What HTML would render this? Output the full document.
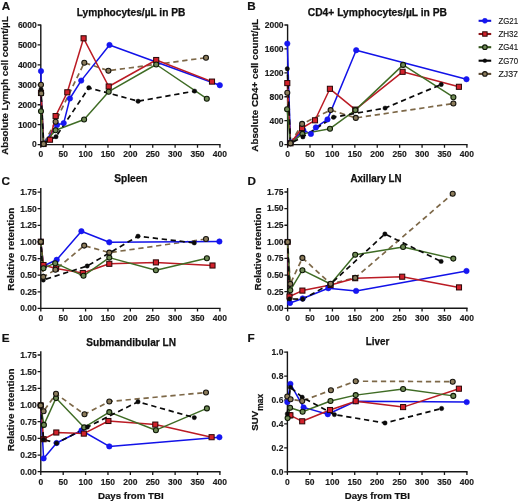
<!DOCTYPE html>
<html><head><meta charset="utf-8"><style>
html,body{margin:0;padding:0;background:#fff;width:520px;height:502px;overflow:hidden}
svg{display:block;will-change:transform}
text{font-family:"Liberation Sans", sans-serif;}
.t{font-size:8.5px;font-weight:bold;fill:#1a1a1a;stroke:#1a1a1a;stroke-width:0.15px}
.ti{font-size:10px;font-weight:bold;fill:#111;stroke:#111;stroke-width:0.25px}
.pl{font-size:11.7px;font-weight:bold;fill:#111;stroke:#111;stroke-width:0.2px}
.yt{font-size:9.9px;font-weight:bold;fill:#111;stroke:#111;stroke-width:0.2px}
.yt1{font-size:9.75px}
.yt2{font-size:9.8px}
.suv{font-size:9.8px}
.xt{font-size:9.5px;font-weight:bold;fill:#111;stroke:#111;stroke-width:0.2px}
.lg{font-size:8.2px;fill:#1a1a1a;stroke:#1a1a1a;stroke-width:0.15px}
</style></head><body>
<svg width="520" height="502" viewBox="0 0 520 502">
<rect width="100%" height="100%" fill="#fff"/>
<path d="M40.80,24.40V144.60M40.10,144.60H220.60" stroke="#161616" stroke-width="1.4" fill="none"/>
<text x="36.80" y="147.45" text-anchor="end" class="t">0</text>
<text x="36.80" y="127.52" text-anchor="end" class="t">1000</text>
<text x="36.80" y="107.58" text-anchor="end" class="t">2000</text>
<text x="36.80" y="87.65" text-anchor="end" class="t">3000</text>
<text x="36.80" y="67.72" text-anchor="end" class="t">4000</text>
<text x="36.80" y="47.78" text-anchor="end" class="t">5000</text>
<text x="36.80" y="27.85" text-anchor="end" class="t">6000</text>
<text x="40.80" y="157.40" text-anchor="middle" class="t">0</text>
<text x="63.19" y="157.40" text-anchor="middle" class="t">50</text>
<text x="85.58" y="157.40" text-anchor="middle" class="t">100</text>
<text x="107.96" y="157.40" text-anchor="middle" class="t">150</text>
<text x="130.35" y="157.40" text-anchor="middle" class="t">200</text>
<text x="152.74" y="157.40" text-anchor="middle" class="t">250</text>
<text x="175.12" y="157.40" text-anchor="middle" class="t">300</text>
<text x="197.51" y="157.40" text-anchor="middle" class="t">350</text>
<text x="219.90" y="157.40" text-anchor="middle" class="t">400</text>
<path d="M37.60,144.60H40.80M37.60,124.67H40.80M37.60,104.73H40.80M37.60,84.80H40.80M37.60,64.87H40.80M37.60,44.93H40.80M37.60,25.00H40.80M40.80,144.60V147.80M63.19,144.60V147.80M85.58,144.60V147.80M107.96,144.60V147.80M130.35,144.60V147.80M152.74,144.60V147.80M175.12,144.60V147.80M197.51,144.60V147.80M219.90,144.60V147.80" stroke="#161616" stroke-width="1.3" fill="none"/>
<path d="M287.60,24.40V144.60M286.90,144.60H467.60" stroke="#161616" stroke-width="1.4" fill="none"/>
<text x="283.60" y="147.45" text-anchor="end" class="t">0</text>
<text x="283.60" y="123.53" text-anchor="end" class="t">400</text>
<text x="283.60" y="99.61" text-anchor="end" class="t">800</text>
<text x="283.60" y="75.69" text-anchor="end" class="t">1200</text>
<text x="283.60" y="51.77" text-anchor="end" class="t">1600</text>
<text x="283.60" y="27.85" text-anchor="end" class="t">2000</text>
<text x="287.60" y="157.40" text-anchor="middle" class="t">0</text>
<text x="310.01" y="157.40" text-anchor="middle" class="t">50</text>
<text x="332.43" y="157.40" text-anchor="middle" class="t">100</text>
<text x="354.84" y="157.40" text-anchor="middle" class="t">150</text>
<text x="377.25" y="157.40" text-anchor="middle" class="t">200</text>
<text x="399.66" y="157.40" text-anchor="middle" class="t">250</text>
<text x="422.07" y="157.40" text-anchor="middle" class="t">300</text>
<text x="444.49" y="157.40" text-anchor="middle" class="t">350</text>
<text x="466.90" y="157.40" text-anchor="middle" class="t">400</text>
<path d="M284.40,144.60H287.60M284.40,120.68H287.60M284.40,96.76H287.60M284.40,72.84H287.60M284.40,48.92H287.60M284.40,25.00H287.60M287.60,144.60V147.80M310.01,144.60V147.80M332.43,144.60V147.80M354.84,144.60V147.80M377.25,144.60V147.80M399.66,144.60V147.80M422.07,144.60V147.80M444.49,144.60V147.80M466.90,144.60V147.80" stroke="#161616" stroke-width="1.3" fill="none"/>
<path d="M40.80,188.00V308.40M40.10,308.40H220.60" stroke="#161616" stroke-width="1.4" fill="none"/>
<text x="36.80" y="311.25" text-anchor="end" class="t">0.00</text>
<text x="36.80" y="294.64" text-anchor="end" class="t">0.25</text>
<text x="36.80" y="278.02" text-anchor="end" class="t">0.50</text>
<text x="36.80" y="261.41" text-anchor="end" class="t">0.75</text>
<text x="36.80" y="244.79" text-anchor="end" class="t">1.00</text>
<text x="36.80" y="228.18" text-anchor="end" class="t">1.25</text>
<text x="36.80" y="211.56" text-anchor="end" class="t">1.50</text>
<text x="36.80" y="194.95" text-anchor="end" class="t">1.75</text>
<text x="40.80" y="321.20" text-anchor="middle" class="t">0</text>
<text x="63.19" y="321.20" text-anchor="middle" class="t">50</text>
<text x="85.58" y="321.20" text-anchor="middle" class="t">100</text>
<text x="107.96" y="321.20" text-anchor="middle" class="t">150</text>
<text x="130.35" y="321.20" text-anchor="middle" class="t">200</text>
<text x="152.74" y="321.20" text-anchor="middle" class="t">250</text>
<text x="175.12" y="321.20" text-anchor="middle" class="t">300</text>
<text x="197.51" y="321.20" text-anchor="middle" class="t">350</text>
<text x="219.90" y="321.20" text-anchor="middle" class="t">400</text>
<path d="M37.60,308.40H40.80M37.60,291.79H40.80M37.60,275.17H40.80M37.60,258.56H40.80M37.60,241.94H40.80M37.60,225.33H40.80M37.60,208.71H40.80M37.60,192.10H40.80M40.80,308.40V311.60M63.19,308.40V311.60M85.58,308.40V311.60M107.96,308.40V311.60M130.35,308.40V311.60M152.74,308.40V311.60M175.12,308.40V311.60M197.51,308.40V311.60M219.90,308.40V311.60" stroke="#161616" stroke-width="1.3" fill="none"/>
<path d="M287.60,187.90V308.30M286.90,308.30H467.60" stroke="#161616" stroke-width="1.4" fill="none"/>
<text x="283.60" y="311.15" text-anchor="end" class="t">0.00</text>
<text x="283.60" y="294.54" text-anchor="end" class="t">0.25</text>
<text x="283.60" y="277.92" text-anchor="end" class="t">0.50</text>
<text x="283.60" y="261.31" text-anchor="end" class="t">0.75</text>
<text x="283.60" y="244.69" text-anchor="end" class="t">1.00</text>
<text x="283.60" y="228.08" text-anchor="end" class="t">1.25</text>
<text x="283.60" y="211.46" text-anchor="end" class="t">1.50</text>
<text x="283.60" y="194.85" text-anchor="end" class="t">1.75</text>
<text x="287.60" y="321.10" text-anchor="middle" class="t">0</text>
<text x="310.01" y="321.10" text-anchor="middle" class="t">50</text>
<text x="332.43" y="321.10" text-anchor="middle" class="t">100</text>
<text x="354.84" y="321.10" text-anchor="middle" class="t">150</text>
<text x="377.25" y="321.10" text-anchor="middle" class="t">200</text>
<text x="399.66" y="321.10" text-anchor="middle" class="t">250</text>
<text x="422.07" y="321.10" text-anchor="middle" class="t">300</text>
<text x="444.49" y="321.10" text-anchor="middle" class="t">350</text>
<text x="466.90" y="321.10" text-anchor="middle" class="t">400</text>
<path d="M284.40,308.30H287.60M284.40,291.69H287.60M284.40,275.07H287.60M284.40,258.46H287.60M284.40,241.84H287.60M284.40,225.23H287.60M284.40,208.61H287.60M284.40,192.00H287.60M287.60,308.30V311.50M310.01,308.30V311.50M332.43,308.30V311.50M354.84,308.30V311.50M377.25,308.30V311.50M399.66,308.30V311.50M422.07,308.30V311.50M444.49,308.30V311.50M466.90,308.30V311.50" stroke="#161616" stroke-width="1.3" fill="none"/>
<path d="M40.80,351.20V471.70M40.10,471.70H220.60" stroke="#161616" stroke-width="1.4" fill="none"/>
<text x="36.80" y="474.55" text-anchor="end" class="t">0.00</text>
<text x="36.80" y="457.88" text-anchor="end" class="t">0.25</text>
<text x="36.80" y="441.21" text-anchor="end" class="t">0.50</text>
<text x="36.80" y="424.54" text-anchor="end" class="t">0.75</text>
<text x="36.80" y="407.86" text-anchor="end" class="t">1.00</text>
<text x="36.80" y="391.19" text-anchor="end" class="t">1.25</text>
<text x="36.80" y="374.52" text-anchor="end" class="t">1.50</text>
<text x="36.80" y="357.85" text-anchor="end" class="t">1.75</text>
<text x="40.80" y="484.50" text-anchor="middle" class="t">0</text>
<text x="63.19" y="484.50" text-anchor="middle" class="t">50</text>
<text x="85.58" y="484.50" text-anchor="middle" class="t">100</text>
<text x="107.96" y="484.50" text-anchor="middle" class="t">150</text>
<text x="130.35" y="484.50" text-anchor="middle" class="t">200</text>
<text x="152.74" y="484.50" text-anchor="middle" class="t">250</text>
<text x="175.12" y="484.50" text-anchor="middle" class="t">300</text>
<text x="197.51" y="484.50" text-anchor="middle" class="t">350</text>
<text x="219.90" y="484.50" text-anchor="middle" class="t">400</text>
<path d="M37.60,471.70H40.80M37.60,455.03H40.80M37.60,438.36H40.80M37.60,421.69H40.80M37.60,405.01H40.80M37.60,388.34H40.80M37.60,371.67H40.80M37.60,355.00H40.80M40.80,471.70V474.90M63.19,471.70V474.90M85.58,471.70V474.90M107.96,471.70V474.90M130.35,471.70V474.90M152.74,471.70V474.90M175.12,471.70V474.90M197.51,471.70V474.90M219.90,471.70V474.90" stroke="#161616" stroke-width="1.3" fill="none"/>
<path d="M287.40,351.50V471.80M286.70,471.80H467.60" stroke="#161616" stroke-width="1.4" fill="none"/>
<text x="283.40" y="474.65" text-anchor="end" class="t">0.0</text>
<text x="283.40" y="450.71" text-anchor="end" class="t">0.2</text>
<text x="283.40" y="426.77" text-anchor="end" class="t">0.4</text>
<text x="283.40" y="402.83" text-anchor="end" class="t">0.6</text>
<text x="283.40" y="378.89" text-anchor="end" class="t">0.8</text>
<text x="283.40" y="354.95" text-anchor="end" class="t">1.0</text>
<text x="287.40" y="484.60" text-anchor="middle" class="t">0</text>
<text x="309.84" y="484.60" text-anchor="middle" class="t">50</text>
<text x="332.27" y="484.60" text-anchor="middle" class="t">100</text>
<text x="354.71" y="484.60" text-anchor="middle" class="t">150</text>
<text x="377.15" y="484.60" text-anchor="middle" class="t">200</text>
<text x="399.59" y="484.60" text-anchor="middle" class="t">250</text>
<text x="422.02" y="484.60" text-anchor="middle" class="t">300</text>
<text x="444.46" y="484.60" text-anchor="middle" class="t">350</text>
<text x="466.90" y="484.60" text-anchor="middle" class="t">400</text>
<path d="M284.20,471.80H287.40M284.20,447.86H287.40M284.20,423.92H287.40M284.20,399.98H287.40M284.20,376.04H287.40M284.20,352.10H287.40M287.40,471.80V475.00M309.84,471.80V475.00M332.27,471.80V475.00M354.71,471.80V475.00M377.15,471.80V475.00M399.59,471.80V475.00M422.02,471.80V475.00M444.46,471.80V475.00M466.90,471.80V475.00" stroke="#161616" stroke-width="1.3" fill="none"/>
<path d="M41.00,84.80L41.20,93.40L43.60,144.00L55.60,121.70L84.30,62.70L108.40,70.70L206.00,57.70" stroke="#7d6848" stroke-width="1.7" fill="none" stroke-linejoin="round" stroke-dasharray="5.3 3.7" stroke-dashoffset="1.94"/>
<path d="M41.00,71.10L41.00,93.00L43.60,144.00L57.00,125.00L63.70,123.10L69.90,98.50L81.20,80.60L109.50,45.00L219.80,85.20" stroke="#1212e8" stroke-width="1.5" fill="none" stroke-linejoin="round"/>
<path d="M41.00,93.00L43.60,144.00L50.00,139.70L55.60,116.10L67.30,92.30L83.60,38.30L108.70,86.50L156.20,60.00L212.00,81.60" stroke="#bb1b24" stroke-width="1.5" fill="none" stroke-linejoin="round"/>
<path d="M41.00,111.30L43.60,144.00L55.60,130.30L84.10,119.50L108.70,91.70L156.20,64.50L206.80,98.70" stroke="#3f6c25" stroke-width="1.45" fill="none" stroke-linejoin="round"/>
<path d="M41.00,89.20L43.60,143.00L56.00,136.70L88.80,87.80L138.10,101.20L194.60,91.10" stroke="#0a0a0a" stroke-width="1.7" fill="none" stroke-linejoin="round" stroke-dasharray="5.3 3.7" stroke-dashoffset="1.61"/>
<circle cx="41.00" cy="71.10" r="2.7" fill="#1616f4" stroke="#1212e8" stroke-width="0.6"/>
<circle cx="41.00" cy="93.00" r="2.7" fill="#1616f4" stroke="#1212e8" stroke-width="0.6"/>
<circle cx="43.60" cy="144.00" r="2.7" fill="#1616f4" stroke="#1212e8" stroke-width="0.6"/>
<circle cx="57.00" cy="125.00" r="2.7" fill="#1616f4" stroke="#1212e8" stroke-width="0.6"/>
<circle cx="63.70" cy="123.10" r="2.7" fill="#1616f4" stroke="#1212e8" stroke-width="0.6"/>
<circle cx="69.90" cy="98.50" r="2.7" fill="#1616f4" stroke="#1212e8" stroke-width="0.6"/>
<circle cx="81.20" cy="80.60" r="2.7" fill="#1616f4" stroke="#1212e8" stroke-width="0.6"/>
<circle cx="109.50" cy="45.00" r="2.7" fill="#1616f4" stroke="#1212e8" stroke-width="0.6"/>
<circle cx="219.80" cy="85.20" r="2.7" fill="#1616f4" stroke="#1212e8" stroke-width="0.6"/>
<rect x="38.45" y="90.45" width="5.10" height="5.10" fill="#d3222c" stroke="#2a0606" stroke-width="1.0"/>
<rect x="41.05" y="141.45" width="5.10" height="5.10" fill="#d3222c" stroke="#2a0606" stroke-width="1.0"/>
<rect x="47.45" y="137.15" width="5.10" height="5.10" fill="#d3222c" stroke="#2a0606" stroke-width="1.0"/>
<rect x="53.05" y="113.55" width="5.10" height="5.10" fill="#d3222c" stroke="#2a0606" stroke-width="1.0"/>
<rect x="64.75" y="89.75" width="5.10" height="5.10" fill="#d3222c" stroke="#2a0606" stroke-width="1.0"/>
<rect x="81.05" y="35.75" width="5.10" height="5.10" fill="#d3222c" stroke="#2a0606" stroke-width="1.0"/>
<rect x="106.15" y="83.95" width="5.10" height="5.10" fill="#d3222c" stroke="#2a0606" stroke-width="1.0"/>
<rect x="153.65" y="57.45" width="5.10" height="5.10" fill="#d3222c" stroke="#2a0606" stroke-width="1.0"/>
<rect x="209.45" y="79.05" width="5.10" height="5.10" fill="#d3222c" stroke="#2a0606" stroke-width="1.0"/>
<circle cx="41.00" cy="111.30" r="2.5" fill="#6f8a55" stroke="#0e1806" stroke-width="1.1"/>
<circle cx="43.60" cy="144.00" r="2.5" fill="#6f8a55" stroke="#0e1806" stroke-width="1.1"/>
<circle cx="55.60" cy="130.30" r="2.5" fill="#6f8a55" stroke="#0e1806" stroke-width="1.1"/>
<circle cx="84.10" cy="119.50" r="2.5" fill="#6f8a55" stroke="#0e1806" stroke-width="1.1"/>
<circle cx="108.70" cy="91.70" r="2.5" fill="#6f8a55" stroke="#0e1806" stroke-width="1.1"/>
<circle cx="156.20" cy="64.50" r="2.5" fill="#6f8a55" stroke="#0e1806" stroke-width="1.1"/>
<circle cx="206.80" cy="98.70" r="2.5" fill="#6f8a55" stroke="#0e1806" stroke-width="1.1"/>
<circle cx="41.00" cy="89.20" r="2.2" fill="#0a0a0a" stroke="#0a0a0a" stroke-width="0.4"/>
<circle cx="43.60" cy="143.00" r="2.2" fill="#0a0a0a" stroke="#0a0a0a" stroke-width="0.4"/>
<circle cx="56.00" cy="136.70" r="2.2" fill="#0a0a0a" stroke="#0a0a0a" stroke-width="0.4"/>
<circle cx="88.80" cy="87.80" r="2.2" fill="#0a0a0a" stroke="#0a0a0a" stroke-width="0.4"/>
<circle cx="138.10" cy="101.20" r="2.2" fill="#0a0a0a" stroke="#0a0a0a" stroke-width="0.4"/>
<circle cx="194.60" cy="91.10" r="2.2" fill="#0a0a0a" stroke="#0a0a0a" stroke-width="0.4"/>
<circle cx="41.00" cy="84.80" r="2.5" fill="#8c7c5c" stroke="#16140e" stroke-width="1.1"/>
<circle cx="41.20" cy="93.40" r="2.5" fill="#8c7c5c" stroke="#16140e" stroke-width="1.1"/>
<circle cx="43.60" cy="144.00" r="2.5" fill="#8c7c5c" stroke="#16140e" stroke-width="1.1"/>
<circle cx="55.60" cy="121.70" r="2.5" fill="#8c7c5c" stroke="#16140e" stroke-width="1.1"/>
<circle cx="84.30" cy="62.70" r="2.5" fill="#8c7c5c" stroke="#16140e" stroke-width="1.1"/>
<circle cx="108.40" cy="70.70" r="2.5" fill="#8c7c5c" stroke="#16140e" stroke-width="1.1"/>
<circle cx="206.00" cy="57.70" r="2.5" fill="#8c7c5c" stroke="#16140e" stroke-width="1.1"/>
<path d="M287.30,92.70L290.50,143.30L302.10,123.90L330.60,110.10L355.80,117.90L453.40,103.50" stroke="#7d6848" stroke-width="1.7" fill="none" stroke-linejoin="round" stroke-dasharray="5.3 3.7" stroke-dashoffset="2.56"/>
<path d="M287.30,43.60L290.50,142.50L303.40,130.40L310.90,133.90L315.90,127.40L327.50,119.40L356.20,50.20L466.50,79.20" stroke="#1212e8" stroke-width="1.5" fill="none" stroke-linejoin="round"/>
<path d="M287.30,83.10L290.50,143.30L302.10,128.00L315.00,120.30L329.90,88.80L355.30,109.60L402.60,71.80L458.90,86.80" stroke="#bb1b24" stroke-width="1.5" fill="none" stroke-linejoin="round"/>
<path d="M287.10,109.20L290.50,143.30L302.40,133.90L330.00,128.70L355.40,110.10L403.10,64.90L453.40,97.20" stroke="#3f6c25" stroke-width="1.45" fill="none" stroke-linejoin="round"/>
<path d="M287.30,68.80L290.50,143.30L302.90,136.90L333.60,117.20L385.10,108.10L441.20,84.50" stroke="#0a0a0a" stroke-width="1.7" fill="none" stroke-linejoin="round" stroke-dasharray="5.3 3.7" stroke-dashoffset="3.35"/>
<circle cx="287.30" cy="43.60" r="2.7" fill="#1616f4" stroke="#1212e8" stroke-width="0.6"/>
<circle cx="290.50" cy="142.50" r="2.7" fill="#1616f4" stroke="#1212e8" stroke-width="0.6"/>
<circle cx="303.40" cy="130.40" r="2.7" fill="#1616f4" stroke="#1212e8" stroke-width="0.6"/>
<circle cx="310.90" cy="133.90" r="2.7" fill="#1616f4" stroke="#1212e8" stroke-width="0.6"/>
<circle cx="315.90" cy="127.40" r="2.7" fill="#1616f4" stroke="#1212e8" stroke-width="0.6"/>
<circle cx="327.50" cy="119.40" r="2.7" fill="#1616f4" stroke="#1212e8" stroke-width="0.6"/>
<circle cx="356.20" cy="50.20" r="2.7" fill="#1616f4" stroke="#1212e8" stroke-width="0.6"/>
<circle cx="466.50" cy="79.20" r="2.7" fill="#1616f4" stroke="#1212e8" stroke-width="0.6"/>
<rect x="284.75" y="80.55" width="5.10" height="5.10" fill="#d3222c" stroke="#2a0606" stroke-width="1.0"/>
<rect x="287.95" y="140.75" width="5.10" height="5.10" fill="#d3222c" stroke="#2a0606" stroke-width="1.0"/>
<rect x="299.55" y="125.45" width="5.10" height="5.10" fill="#d3222c" stroke="#2a0606" stroke-width="1.0"/>
<rect x="312.45" y="117.75" width="5.10" height="5.10" fill="#d3222c" stroke="#2a0606" stroke-width="1.0"/>
<rect x="327.35" y="86.25" width="5.10" height="5.10" fill="#d3222c" stroke="#2a0606" stroke-width="1.0"/>
<rect x="352.75" y="107.05" width="5.10" height="5.10" fill="#d3222c" stroke="#2a0606" stroke-width="1.0"/>
<rect x="400.05" y="69.25" width="5.10" height="5.10" fill="#d3222c" stroke="#2a0606" stroke-width="1.0"/>
<rect x="456.35" y="84.25" width="5.10" height="5.10" fill="#d3222c" stroke="#2a0606" stroke-width="1.0"/>
<circle cx="287.10" cy="109.20" r="2.5" fill="#6f8a55" stroke="#0e1806" stroke-width="1.1"/>
<circle cx="290.50" cy="143.30" r="2.5" fill="#6f8a55" stroke="#0e1806" stroke-width="1.1"/>
<circle cx="302.40" cy="133.90" r="2.5" fill="#6f8a55" stroke="#0e1806" stroke-width="1.1"/>
<circle cx="330.00" cy="128.70" r="2.5" fill="#6f8a55" stroke="#0e1806" stroke-width="1.1"/>
<circle cx="355.40" cy="110.10" r="2.5" fill="#6f8a55" stroke="#0e1806" stroke-width="1.1"/>
<circle cx="403.10" cy="64.90" r="2.5" fill="#6f8a55" stroke="#0e1806" stroke-width="1.1"/>
<circle cx="453.40" cy="97.20" r="2.5" fill="#6f8a55" stroke="#0e1806" stroke-width="1.1"/>
<circle cx="287.30" cy="68.80" r="2.2" fill="#0a0a0a" stroke="#0a0a0a" stroke-width="0.4"/>
<circle cx="290.50" cy="143.30" r="2.2" fill="#0a0a0a" stroke="#0a0a0a" stroke-width="0.4"/>
<circle cx="302.90" cy="136.90" r="2.2" fill="#0a0a0a" stroke="#0a0a0a" stroke-width="0.4"/>
<circle cx="333.60" cy="117.20" r="2.2" fill="#0a0a0a" stroke="#0a0a0a" stroke-width="0.4"/>
<circle cx="385.10" cy="108.10" r="2.2" fill="#0a0a0a" stroke="#0a0a0a" stroke-width="0.4"/>
<circle cx="441.20" cy="84.50" r="2.2" fill="#0a0a0a" stroke="#0a0a0a" stroke-width="0.4"/>
<circle cx="287.30" cy="92.70" r="2.5" fill="#8c7c5c" stroke="#16140e" stroke-width="1.1"/>
<circle cx="290.50" cy="143.30" r="2.5" fill="#8c7c5c" stroke="#16140e" stroke-width="1.1"/>
<circle cx="302.10" cy="123.90" r="2.5" fill="#8c7c5c" stroke="#16140e" stroke-width="1.1"/>
<circle cx="330.60" cy="110.10" r="2.5" fill="#8c7c5c" stroke="#16140e" stroke-width="1.1"/>
<circle cx="355.80" cy="117.90" r="2.5" fill="#8c7c5c" stroke="#16140e" stroke-width="1.1"/>
<circle cx="453.40" cy="103.50" r="2.5" fill="#8c7c5c" stroke="#16140e" stroke-width="1.1"/>
<path d="M40.80,241.70L43.30,276.90L55.40,269.80L84.20,245.60L109.30,252.60L206.00,239.00" stroke="#7d6848" stroke-width="1.7" fill="none" stroke-linejoin="round" stroke-dasharray="5.3 3.7" stroke-dashoffset="1.75"/>
<path d="M40.80,241.70L43.50,266.00L56.70,259.80L81.40,231.20L109.30,242.30L219.40,241.50" stroke="#1212e8" stroke-width="1.5" fill="none" stroke-linejoin="round"/>
<path d="M40.80,241.70L43.50,265.00L56.00,268.50L82.80,273.00L109.30,263.80L155.90,262.40L212.50,265.50" stroke="#bb1b24" stroke-width="1.5" fill="none" stroke-linejoin="round"/>
<path d="M40.80,241.70L43.50,268.20L55.20,263.20L83.50,275.80L109.30,257.60L155.90,270.20L206.90,258.20" stroke="#3f6c25" stroke-width="1.45" fill="none" stroke-linejoin="round"/>
<path d="M40.80,241.70L43.30,280.00L87.20,266.00L138.00,236.20L194.30,242.90" stroke="#0a0a0a" stroke-width="1.7" fill="none" stroke-linejoin="round" stroke-dasharray="5.3 3.7" stroke-dashoffset="3.8"/>
<circle cx="40.80" cy="241.70" r="2.7" fill="#1616f4" stroke="#1212e8" stroke-width="0.6"/>
<circle cx="43.50" cy="266.00" r="2.7" fill="#1616f4" stroke="#1212e8" stroke-width="0.6"/>
<circle cx="56.70" cy="259.80" r="2.7" fill="#1616f4" stroke="#1212e8" stroke-width="0.6"/>
<circle cx="81.40" cy="231.20" r="2.7" fill="#1616f4" stroke="#1212e8" stroke-width="0.6"/>
<circle cx="109.30" cy="242.30" r="2.7" fill="#1616f4" stroke="#1212e8" stroke-width="0.6"/>
<circle cx="219.40" cy="241.50" r="2.7" fill="#1616f4" stroke="#1212e8" stroke-width="0.6"/>
<rect x="38.25" y="239.15" width="5.10" height="5.10" fill="#d3222c" stroke="#2a0606" stroke-width="1.0"/>
<rect x="40.95" y="262.45" width="5.10" height="5.10" fill="#d3222c" stroke="#2a0606" stroke-width="1.0"/>
<rect x="53.45" y="265.95" width="5.10" height="5.10" fill="#d3222c" stroke="#2a0606" stroke-width="1.0"/>
<rect x="80.25" y="270.45" width="5.10" height="5.10" fill="#d3222c" stroke="#2a0606" stroke-width="1.0"/>
<rect x="106.75" y="261.25" width="5.10" height="5.10" fill="#d3222c" stroke="#2a0606" stroke-width="1.0"/>
<rect x="153.35" y="259.85" width="5.10" height="5.10" fill="#d3222c" stroke="#2a0606" stroke-width="1.0"/>
<rect x="209.95" y="262.95" width="5.10" height="5.10" fill="#d3222c" stroke="#2a0606" stroke-width="1.0"/>
<circle cx="40.80" cy="241.70" r="2.5" fill="#6f8a55" stroke="#0e1806" stroke-width="1.1"/>
<circle cx="43.50" cy="268.20" r="2.5" fill="#6f8a55" stroke="#0e1806" stroke-width="1.1"/>
<circle cx="55.20" cy="263.20" r="2.5" fill="#6f8a55" stroke="#0e1806" stroke-width="1.1"/>
<circle cx="83.50" cy="275.80" r="2.5" fill="#6f8a55" stroke="#0e1806" stroke-width="1.1"/>
<circle cx="109.30" cy="257.60" r="2.5" fill="#6f8a55" stroke="#0e1806" stroke-width="1.1"/>
<circle cx="155.90" cy="270.20" r="2.5" fill="#6f8a55" stroke="#0e1806" stroke-width="1.1"/>
<circle cx="206.90" cy="258.20" r="2.5" fill="#6f8a55" stroke="#0e1806" stroke-width="1.1"/>
<circle cx="40.80" cy="241.70" r="2.2" fill="#0a0a0a" stroke="#0a0a0a" stroke-width="0.4"/>
<circle cx="43.30" cy="280.00" r="2.2" fill="#0a0a0a" stroke="#0a0a0a" stroke-width="0.4"/>
<circle cx="87.20" cy="266.00" r="2.2" fill="#0a0a0a" stroke="#0a0a0a" stroke-width="0.4"/>
<circle cx="138.00" cy="236.20" r="2.2" fill="#0a0a0a" stroke="#0a0a0a" stroke-width="0.4"/>
<circle cx="194.30" cy="242.90" r="2.2" fill="#0a0a0a" stroke="#0a0a0a" stroke-width="0.4"/>
<circle cx="40.80" cy="241.70" r="2.5" fill="#8c7c5c" stroke="#16140e" stroke-width="1.1"/>
<circle cx="43.30" cy="276.90" r="2.5" fill="#8c7c5c" stroke="#16140e" stroke-width="1.1"/>
<circle cx="55.40" cy="269.80" r="2.5" fill="#8c7c5c" stroke="#16140e" stroke-width="1.1"/>
<circle cx="84.20" cy="245.60" r="2.5" fill="#8c7c5c" stroke="#16140e" stroke-width="1.1"/>
<circle cx="109.30" cy="252.60" r="2.5" fill="#8c7c5c" stroke="#16140e" stroke-width="1.1"/>
<circle cx="206.00" cy="239.00" r="2.5" fill="#8c7c5c" stroke="#16140e" stroke-width="1.1"/>
<path d="M287.60,242.00L290.30,283.90L302.40,257.90L330.60,283.80L355.20,277.90L452.70,193.70" stroke="#7d6848" stroke-width="1.7" fill="none" stroke-linejoin="round" stroke-dasharray="5.3 3.7" stroke-dashoffset="1.38"/>
<path d="M287.60,242.00L290.00,303.00L302.70,298.50L328.30,288.20L356.10,290.90L466.50,271.00" stroke="#1212e8" stroke-width="1.5" fill="none" stroke-linejoin="round"/>
<path d="M287.60,242.00L289.50,296.50L302.40,290.60L330.60,285.00L355.20,278.20L402.20,276.70L459.00,287.40" stroke="#bb1b24" stroke-width="1.5" fill="none" stroke-linejoin="round"/>
<path d="M287.60,242.00L290.30,290.30L302.40,270.20L330.60,284.00L355.20,254.80L403.10,247.00L453.30,258.60" stroke="#3f6c25" stroke-width="1.45" fill="none" stroke-linejoin="round"/>
<path d="M287.60,242.00L289.70,298.90L302.70,299.20L331.00,283.60L384.90,234.00L441.10,261.40" stroke="#0a0a0a" stroke-width="1.7" fill="none" stroke-linejoin="round" stroke-dasharray="5.3 3.7" stroke-dashoffset="2.81"/>
<circle cx="287.60" cy="242.00" r="2.7" fill="#1616f4" stroke="#1212e8" stroke-width="0.6"/>
<circle cx="290.00" cy="303.00" r="2.7" fill="#1616f4" stroke="#1212e8" stroke-width="0.6"/>
<circle cx="302.70" cy="298.50" r="2.7" fill="#1616f4" stroke="#1212e8" stroke-width="0.6"/>
<circle cx="328.30" cy="288.20" r="2.7" fill="#1616f4" stroke="#1212e8" stroke-width="0.6"/>
<circle cx="356.10" cy="290.90" r="2.7" fill="#1616f4" stroke="#1212e8" stroke-width="0.6"/>
<circle cx="466.50" cy="271.00" r="2.7" fill="#1616f4" stroke="#1212e8" stroke-width="0.6"/>
<rect x="285.05" y="239.45" width="5.10" height="5.10" fill="#d3222c" stroke="#2a0606" stroke-width="1.0"/>
<rect x="286.95" y="293.95" width="5.10" height="5.10" fill="#d3222c" stroke="#2a0606" stroke-width="1.0"/>
<rect x="299.85" y="288.05" width="5.10" height="5.10" fill="#d3222c" stroke="#2a0606" stroke-width="1.0"/>
<rect x="328.05" y="282.45" width="5.10" height="5.10" fill="#d3222c" stroke="#2a0606" stroke-width="1.0"/>
<rect x="352.65" y="275.65" width="5.10" height="5.10" fill="#d3222c" stroke="#2a0606" stroke-width="1.0"/>
<rect x="399.65" y="274.15" width="5.10" height="5.10" fill="#d3222c" stroke="#2a0606" stroke-width="1.0"/>
<rect x="456.45" y="284.85" width="5.10" height="5.10" fill="#d3222c" stroke="#2a0606" stroke-width="1.0"/>
<circle cx="287.60" cy="242.00" r="2.5" fill="#6f8a55" stroke="#0e1806" stroke-width="1.1"/>
<circle cx="290.30" cy="290.30" r="2.5" fill="#6f8a55" stroke="#0e1806" stroke-width="1.1"/>
<circle cx="302.40" cy="270.20" r="2.5" fill="#6f8a55" stroke="#0e1806" stroke-width="1.1"/>
<circle cx="330.60" cy="284.00" r="2.5" fill="#6f8a55" stroke="#0e1806" stroke-width="1.1"/>
<circle cx="355.20" cy="254.80" r="2.5" fill="#6f8a55" stroke="#0e1806" stroke-width="1.1"/>
<circle cx="403.10" cy="247.00" r="2.5" fill="#6f8a55" stroke="#0e1806" stroke-width="1.1"/>
<circle cx="453.30" cy="258.60" r="2.5" fill="#6f8a55" stroke="#0e1806" stroke-width="1.1"/>
<circle cx="287.60" cy="242.00" r="2.2" fill="#0a0a0a" stroke="#0a0a0a" stroke-width="0.4"/>
<circle cx="289.70" cy="298.90" r="2.2" fill="#0a0a0a" stroke="#0a0a0a" stroke-width="0.4"/>
<circle cx="302.70" cy="299.20" r="2.2" fill="#0a0a0a" stroke="#0a0a0a" stroke-width="0.4"/>
<circle cx="331.00" cy="283.60" r="2.2" fill="#0a0a0a" stroke="#0a0a0a" stroke-width="0.4"/>
<circle cx="384.90" cy="234.00" r="2.2" fill="#0a0a0a" stroke="#0a0a0a" stroke-width="0.4"/>
<circle cx="441.10" cy="261.40" r="2.2" fill="#0a0a0a" stroke="#0a0a0a" stroke-width="0.4"/>
<circle cx="287.60" cy="242.00" r="2.5" fill="#8c7c5c" stroke="#16140e" stroke-width="1.1"/>
<circle cx="290.30" cy="283.90" r="2.5" fill="#8c7c5c" stroke="#16140e" stroke-width="1.1"/>
<circle cx="302.40" cy="257.90" r="2.5" fill="#8c7c5c" stroke="#16140e" stroke-width="1.1"/>
<circle cx="330.60" cy="283.80" r="2.5" fill="#8c7c5c" stroke="#16140e" stroke-width="1.1"/>
<circle cx="355.20" cy="277.90" r="2.5" fill="#8c7c5c" stroke="#16140e" stroke-width="1.1"/>
<circle cx="452.70" cy="193.70" r="2.5" fill="#8c7c5c" stroke="#16140e" stroke-width="1.1"/>
<path d="M40.70,405.40L43.60,411.30L56.00,393.80L84.50,414.30L109.30,401.50L206.00,392.50" stroke="#7d6848" stroke-width="1.7" fill="none" stroke-linejoin="round" stroke-dasharray="5.3 3.7" stroke-dashoffset="0.64"/>
<path d="M40.70,405.40L43.60,458.40L56.60,443.00L81.50,430.50L109.30,446.40L219.40,437.20" stroke="#1212e8" stroke-width="1.5" fill="none" stroke-linejoin="round"/>
<path d="M40.70,405.40L43.60,439.20L56.30,432.50L83.80,433.60L108.40,421.00L155.30,424.60L211.60,437.20" stroke="#bb1b24" stroke-width="1.5" fill="none" stroke-linejoin="round"/>
<path d="M40.70,405.40L43.90,424.90L56.00,398.10L84.20,427.40L109.30,412.10L155.90,430.20L206.90,408.40" stroke="#3f6c25" stroke-width="1.45" fill="none" stroke-linejoin="round"/>
<path d="M40.70,405.40L43.60,439.50L56.60,443.20L87.40,427.00L138.00,401.80L194.30,417.60" stroke="#0a0a0a" stroke-width="1.7" fill="none" stroke-linejoin="round" stroke-dasharray="5.3 3.7" stroke-dashoffset="0.15"/>
<circle cx="40.70" cy="405.40" r="2.7" fill="#1616f4" stroke="#1212e8" stroke-width="0.6"/>
<circle cx="43.60" cy="458.40" r="2.7" fill="#1616f4" stroke="#1212e8" stroke-width="0.6"/>
<circle cx="56.60" cy="443.00" r="2.7" fill="#1616f4" stroke="#1212e8" stroke-width="0.6"/>
<circle cx="81.50" cy="430.50" r="2.7" fill="#1616f4" stroke="#1212e8" stroke-width="0.6"/>
<circle cx="109.30" cy="446.40" r="2.7" fill="#1616f4" stroke="#1212e8" stroke-width="0.6"/>
<circle cx="219.40" cy="437.20" r="2.7" fill="#1616f4" stroke="#1212e8" stroke-width="0.6"/>
<rect x="38.15" y="402.85" width="5.10" height="5.10" fill="#d3222c" stroke="#2a0606" stroke-width="1.0"/>
<rect x="41.05" y="436.65" width="5.10" height="5.10" fill="#d3222c" stroke="#2a0606" stroke-width="1.0"/>
<rect x="53.75" y="429.95" width="5.10" height="5.10" fill="#d3222c" stroke="#2a0606" stroke-width="1.0"/>
<rect x="81.25" y="431.05" width="5.10" height="5.10" fill="#d3222c" stroke="#2a0606" stroke-width="1.0"/>
<rect x="105.85" y="418.45" width="5.10" height="5.10" fill="#d3222c" stroke="#2a0606" stroke-width="1.0"/>
<rect x="152.75" y="422.05" width="5.10" height="5.10" fill="#d3222c" stroke="#2a0606" stroke-width="1.0"/>
<rect x="209.05" y="434.65" width="5.10" height="5.10" fill="#d3222c" stroke="#2a0606" stroke-width="1.0"/>
<circle cx="40.70" cy="405.40" r="2.5" fill="#6f8a55" stroke="#0e1806" stroke-width="1.1"/>
<circle cx="43.90" cy="424.90" r="2.5" fill="#6f8a55" stroke="#0e1806" stroke-width="1.1"/>
<circle cx="56.00" cy="398.10" r="2.5" fill="#6f8a55" stroke="#0e1806" stroke-width="1.1"/>
<circle cx="84.20" cy="427.40" r="2.5" fill="#6f8a55" stroke="#0e1806" stroke-width="1.1"/>
<circle cx="109.30" cy="412.10" r="2.5" fill="#6f8a55" stroke="#0e1806" stroke-width="1.1"/>
<circle cx="155.90" cy="430.20" r="2.5" fill="#6f8a55" stroke="#0e1806" stroke-width="1.1"/>
<circle cx="206.90" cy="408.40" r="2.5" fill="#6f8a55" stroke="#0e1806" stroke-width="1.1"/>
<circle cx="40.70" cy="405.40" r="2.2" fill="#0a0a0a" stroke="#0a0a0a" stroke-width="0.4"/>
<circle cx="43.60" cy="439.50" r="2.2" fill="#0a0a0a" stroke="#0a0a0a" stroke-width="0.4"/>
<circle cx="56.60" cy="443.20" r="2.2" fill="#0a0a0a" stroke="#0a0a0a" stroke-width="0.4"/>
<circle cx="87.40" cy="427.00" r="2.2" fill="#0a0a0a" stroke="#0a0a0a" stroke-width="0.4"/>
<circle cx="138.00" cy="401.80" r="2.2" fill="#0a0a0a" stroke="#0a0a0a" stroke-width="0.4"/>
<circle cx="194.30" cy="417.60" r="2.2" fill="#0a0a0a" stroke="#0a0a0a" stroke-width="0.4"/>
<circle cx="40.70" cy="405.40" r="2.5" fill="#8c7c5c" stroke="#16140e" stroke-width="1.1"/>
<circle cx="43.60" cy="411.30" r="2.5" fill="#8c7c5c" stroke="#16140e" stroke-width="1.1"/>
<circle cx="56.00" cy="393.80" r="2.5" fill="#8c7c5c" stroke="#16140e" stroke-width="1.1"/>
<circle cx="84.50" cy="414.30" r="2.5" fill="#8c7c5c" stroke="#16140e" stroke-width="1.1"/>
<circle cx="109.30" cy="401.50" r="2.5" fill="#8c7c5c" stroke="#16140e" stroke-width="1.1"/>
<circle cx="206.00" cy="392.50" r="2.5" fill="#8c7c5c" stroke="#16140e" stroke-width="1.1"/>
<path d="M287.30,396.50L290.60,399.30L302.20,401.00L330.90,390.20L355.70,381.20L452.70,381.70" stroke="#7d6848" stroke-width="1.7" fill="none" stroke-linejoin="round" stroke-dasharray="5.3 3.7" stroke-dashoffset="0.7"/>
<path d="M287.30,402.10L290.40,383.90L303.60,407.40L327.80,414.20L355.70,401.20L466.70,402.10" stroke="#1212e8" stroke-width="1.5" fill="none" stroke-linejoin="round"/>
<path d="M289.50,415.30L290.40,415.30L302.20,421.30L330.00,410.00L355.70,401.20L403.10,407.10L458.90,388.70" stroke="#bb1b24" stroke-width="1.5" fill="none" stroke-linejoin="round"/>
<path d="M287.60,418.10L290.10,407.70L302.60,411.80L330.50,401.00L355.70,395.10L403.10,389.00L453.30,395.90" stroke="#3f6c25" stroke-width="1.45" fill="none" stroke-linejoin="round"/>
<path d="M287.30,413.90L290.40,387.40L302.20,397.20L334.40,414.60L385.00,423.00L441.60,408.50" stroke="#0a0a0a" stroke-width="1.7" fill="none" stroke-linejoin="round" stroke-dasharray="5.3 3.7" stroke-dashoffset="8.41"/>
<circle cx="287.30" cy="402.10" r="2.7" fill="#1616f4" stroke="#1212e8" stroke-width="0.6"/>
<circle cx="290.40" cy="383.90" r="2.7" fill="#1616f4" stroke="#1212e8" stroke-width="0.6"/>
<circle cx="303.60" cy="407.40" r="2.7" fill="#1616f4" stroke="#1212e8" stroke-width="0.6"/>
<circle cx="327.80" cy="414.20" r="2.7" fill="#1616f4" stroke="#1212e8" stroke-width="0.6"/>
<circle cx="355.70" cy="401.20" r="2.7" fill="#1616f4" stroke="#1212e8" stroke-width="0.6"/>
<circle cx="466.70" cy="402.10" r="2.7" fill="#1616f4" stroke="#1212e8" stroke-width="0.6"/>
<rect x="286.95" y="412.75" width="5.10" height="5.10" fill="#d3222c" stroke="#2a0606" stroke-width="1.0"/>
<rect x="287.85" y="412.75" width="5.10" height="5.10" fill="#d3222c" stroke="#2a0606" stroke-width="1.0"/>
<rect x="299.65" y="418.75" width="5.10" height="5.10" fill="#d3222c" stroke="#2a0606" stroke-width="1.0"/>
<rect x="327.45" y="407.45" width="5.10" height="5.10" fill="#d3222c" stroke="#2a0606" stroke-width="1.0"/>
<rect x="353.15" y="398.65" width="5.10" height="5.10" fill="#d3222c" stroke="#2a0606" stroke-width="1.0"/>
<rect x="400.55" y="404.55" width="5.10" height="5.10" fill="#d3222c" stroke="#2a0606" stroke-width="1.0"/>
<rect x="456.35" y="386.15" width="5.10" height="5.10" fill="#d3222c" stroke="#2a0606" stroke-width="1.0"/>
<circle cx="287.60" cy="418.10" r="2.5" fill="#6f8a55" stroke="#0e1806" stroke-width="1.1"/>
<circle cx="290.10" cy="407.70" r="2.5" fill="#6f8a55" stroke="#0e1806" stroke-width="1.1"/>
<circle cx="302.60" cy="411.80" r="2.5" fill="#6f8a55" stroke="#0e1806" stroke-width="1.1"/>
<circle cx="330.50" cy="401.00" r="2.5" fill="#6f8a55" stroke="#0e1806" stroke-width="1.1"/>
<circle cx="355.70" cy="395.10" r="2.5" fill="#6f8a55" stroke="#0e1806" stroke-width="1.1"/>
<circle cx="403.10" cy="389.00" r="2.5" fill="#6f8a55" stroke="#0e1806" stroke-width="1.1"/>
<circle cx="453.30" cy="395.90" r="2.5" fill="#6f8a55" stroke="#0e1806" stroke-width="1.1"/>
<circle cx="287.30" cy="413.90" r="2.2" fill="#0a0a0a" stroke="#0a0a0a" stroke-width="0.4"/>
<circle cx="290.40" cy="387.40" r="2.2" fill="#0a0a0a" stroke="#0a0a0a" stroke-width="0.4"/>
<circle cx="302.20" cy="397.20" r="2.2" fill="#0a0a0a" stroke="#0a0a0a" stroke-width="0.4"/>
<circle cx="334.40" cy="414.60" r="2.2" fill="#0a0a0a" stroke="#0a0a0a" stroke-width="0.4"/>
<circle cx="385.00" cy="423.00" r="2.2" fill="#0a0a0a" stroke="#0a0a0a" stroke-width="0.4"/>
<circle cx="441.60" cy="408.50" r="2.2" fill="#0a0a0a" stroke="#0a0a0a" stroke-width="0.4"/>
<circle cx="287.30" cy="396.50" r="2.5" fill="#8c7c5c" stroke="#16140e" stroke-width="1.1"/>
<circle cx="290.60" cy="399.30" r="2.5" fill="#8c7c5c" stroke="#16140e" stroke-width="1.1"/>
<circle cx="302.20" cy="401.00" r="2.5" fill="#8c7c5c" stroke="#16140e" stroke-width="1.1"/>
<circle cx="330.90" cy="390.20" r="2.5" fill="#8c7c5c" stroke="#16140e" stroke-width="1.1"/>
<circle cx="355.70" cy="381.20" r="2.5" fill="#8c7c5c" stroke="#16140e" stroke-width="1.1"/>
<circle cx="452.70" cy="381.70" r="2.5" fill="#8c7c5c" stroke="#16140e" stroke-width="1.1"/>
<path d="M478.6,20.80H491.2" stroke="#1010d8" stroke-width="2.1" fill="none"/>
<circle cx="484.9" cy="20.80" r="2.45" fill="#1616f4" stroke="#1212e8" stroke-width="0.6"/>
<text x="498.4" y="23.70" textLength="19.6" lengthAdjust="spacingAndGlyphs" class="lg">ZG21</text>
<path d="M478.6,34.00H491.2" stroke="#8e1418" stroke-width="2.1" fill="none"/>
<rect x="482.70" y="31.80" width="4.4" height="4.4" fill="#d3222c" stroke="#2a0606" stroke-width="1.0"/>
<text x="498.4" y="36.90" textLength="19.6" lengthAdjust="spacingAndGlyphs" class="lg">ZH32</text>
<path d="M478.6,47.20H491.2" stroke="#34561c" stroke-width="2.1" fill="none"/>
<circle cx="484.9" cy="47.20" r="2.3" fill="#6f8a55" stroke="#0e1806" stroke-width="1.1"/>
<text x="498.4" y="50.10" textLength="19.6" lengthAdjust="spacingAndGlyphs" class="lg">ZG41</text>
<path d="M478.6,60.70H491.2" stroke="#050505" stroke-width="2.1" fill="none"/>
<circle cx="484.9" cy="60.70" r="1.9" fill="#0a0a0a" stroke="#0a0a0a" stroke-width="0.4"/>
<text x="498.4" y="63.60" textLength="19.6" lengthAdjust="spacingAndGlyphs" class="lg">ZG70</text>
<path d="M478.6,73.90H491.2" stroke="#5e4c34" stroke-width="2.1" fill="none"/>
<circle cx="484.9" cy="73.90" r="2.3" fill="#8c7c5c" stroke="#16140e" stroke-width="1.1"/>
<text x="498.4" y="76.80" textLength="19.6" lengthAdjust="spacingAndGlyphs" class="lg">ZJ37</text>
<text x="1.7" y="9.5" class="pl">A</text>
<text x="247.3" y="9.5" class="pl">B</text>
<text x="1.6" y="184.9" class="pl">C</text>
<text x="247.4" y="184.9" class="pl">D</text>
<text x="1.7" y="342.1" class="pl">E</text>
<text x="247.6" y="341.9" class="pl">F</text>
<text x="131.00" y="15.80" text-anchor="middle" textLength="108.70" lengthAdjust="spacingAndGlyphs" class="ti">Lymphocytes/µL in PB</text>
<text x="377.40" y="15.80" text-anchor="middle" textLength="139.30" lengthAdjust="spacingAndGlyphs" class="ti">CD4+ Lymphocytes/µL in PB</text>
<text x="130.85" y="182.00" text-anchor="middle" textLength="33.40" lengthAdjust="spacingAndGlyphs" class="ti">Spleen</text>
<text x="376.10" y="182.00" text-anchor="middle" textLength="51.10" lengthAdjust="spacingAndGlyphs" class="ti">Axillary LN</text>
<text x="131.10" y="345.50" text-anchor="middle" textLength="89.70" lengthAdjust="spacingAndGlyphs" class="ti">Submandibular LN</text>
<text x="377.65" y="345.30" text-anchor="middle" textLength="23.60" lengthAdjust="spacingAndGlyphs" class="ti">Liver</text>
<text transform="translate(8.30,85.60) rotate(-90)" text-anchor="middle" class="yt yt1">Absolute Lymph cell count/µL</text>
<text transform="translate(257.80,85.30) rotate(-90)" text-anchor="middle" class="yt yt2">Absolute CD4+ cell count/µL</text>
<text transform="translate(13.90,249.20) rotate(-90)" text-anchor="middle" class="yt">Relative retention</text>
<text transform="translate(260.70,249.00) rotate(-90)" text-anchor="middle" class="yt">Relative retention</text>
<text transform="translate(13.90,409.90) rotate(-90)" text-anchor="middle" class="yt">Relative retention</text>
<text transform="translate(258.1,412.4) rotate(-90)" text-anchor="middle" class="yt suv">SUV<tspan font-size="8.4" dy="4.8">max</tspan></text>
<text x="130.80" y="499.20" text-anchor="middle" textLength="65.70" lengthAdjust="spacingAndGlyphs" class="xt">Days from TBI</text>
<text x="377.30" y="499.20" text-anchor="middle" textLength="65.10" lengthAdjust="spacingAndGlyphs" class="xt">Days from TBI</text>
</svg>
</body></html>
